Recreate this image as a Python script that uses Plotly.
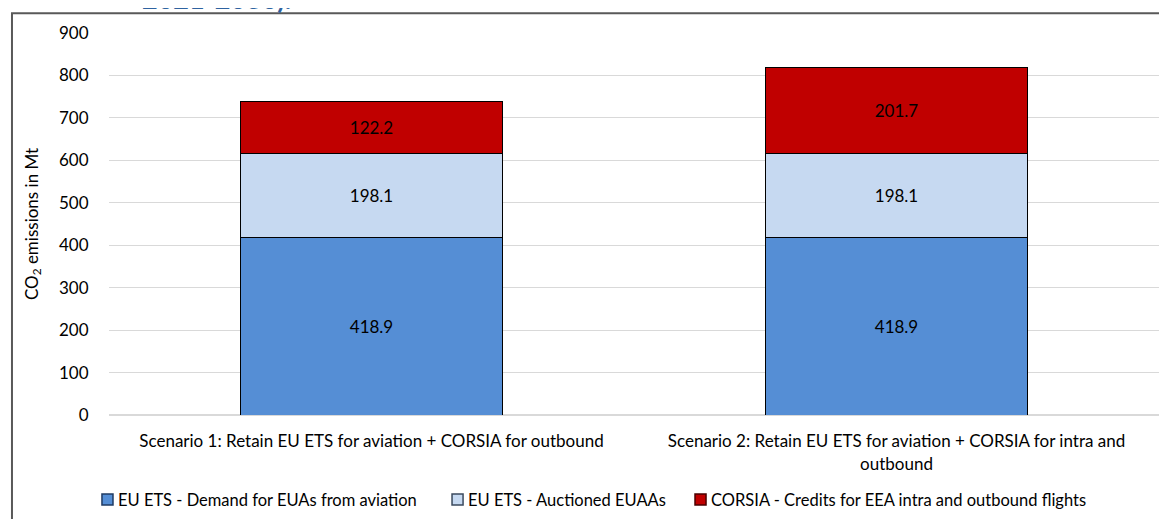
import plotly.graph_objects as go

scenarios = [
    "Scenario 1: Retain EU ETS for aviation + CORSIA for outbound",
    "Scenario 2: Retain EU ETS for aviation + CORSIA for intra and<br>outbound",
]
demand_euas = [418.9, 418.9]
auctioned_euaas = [198.1, 198.1]
corsia_credits = [122.2, 201.7]

series_names = [
    "EU ETS - Demand for EUAs from aviation",
    "EU ETS - Auctioned EUAAs",
    "CORSIA - Credits for EEA intra and outbound flights",
]
series_values = [demand_euas, auctioned_euaas, corsia_credits]
colors = ["#558ED5", "#C6D9F1", "#C00000"]
edge_colors = ["#1F3B63", "#3B4A5E", "#4A0000"]

font_family = "Lato, Carlito, sans-serif"

fig = go.Figure()
for name, vals, color in zip(series_names, series_values, colors):
    fig.add_trace(go.Bar(
        x=scenarios, y=vals, name=name, showlegend=False,
        marker=dict(color=color, line=dict(color="#000000", width=1)),
        text=[f"{v:.1f}" for v in vals],
        textposition="inside", insidetextanchor="middle",
        textfont=dict(color="#000000", size=17, family=font_family),
    ))

# legend drawn by hand: Excel-style small square right next to the label
legend_x = [-0.0067, 0.3267, 0.5581]
for lx, name, color, edge in zip(legend_x, series_names, colors, edge_colors):
    fig.add_shape(type="rect", xref="paper", yref="paper",
                  x0=lx, x1=lx + 0.0105, y0=-0.2356, y1=-0.2068,
                  fillcolor=color, line=dict(color=edge, width=1.5))
    fig.add_annotation(text=name, xref="paper", yref="paper",
                       x=lx + 0.013, y=-0.2225, xanchor="left", yanchor="middle",
                       showarrow=False, font=dict(size=16.5, color="#000000"))

# outer chart frame (runs off the right/bottom edge like the source)
fig.add_shape(type="rect", xref="paper", yref="paper",
              x0=-0.0924, x1=1.2, y0=-0.5, y1=1.052,
              line=dict(color="#595959", width=2), layer="above")

# cut-off heading from the surrounding document
fig.add_annotation(text="<b>2021-2030).</b>", xref="paper", yref="paper",
                   x=0.0295, y=1.043, xanchor="left", yanchor="bottom",
                   showarrow=False,
                   font=dict(size=27, color="#2E62A0", family=font_family))

fig.update_layout(
    barmode="stack",
    bargap=0.5,
    width=1167, height=519,
    margin=dict(l=101, r=16, t=25, b=112, autoexpand=False),
    plot_bgcolor="white", paper_bgcolor="white",
    font=dict(family=font_family, size=17, color="#000000"),
    yaxis=dict(
        range=[0, 900], dtick=100, showgrid=True, gridcolor="#D9D9D9", gridwidth=1,
        zeroline=True, zerolinecolor="#D9D9D9", showline=False,
        ticks="outside", ticklen=16, tickcolor="rgba(0,0,0,0)",
        tickfont=dict(size=17),
        title=dict(text="CO<sub>2</sub> emissions in Mt", font=dict(size=17), standoff=16),
    ),
    xaxis=dict(showline=False, tickfont=dict(size=17), ticks="outside",
               ticklen=11, tickcolor="rgba(0,0,0,0)"),
)

fig.write_html("out.html")
